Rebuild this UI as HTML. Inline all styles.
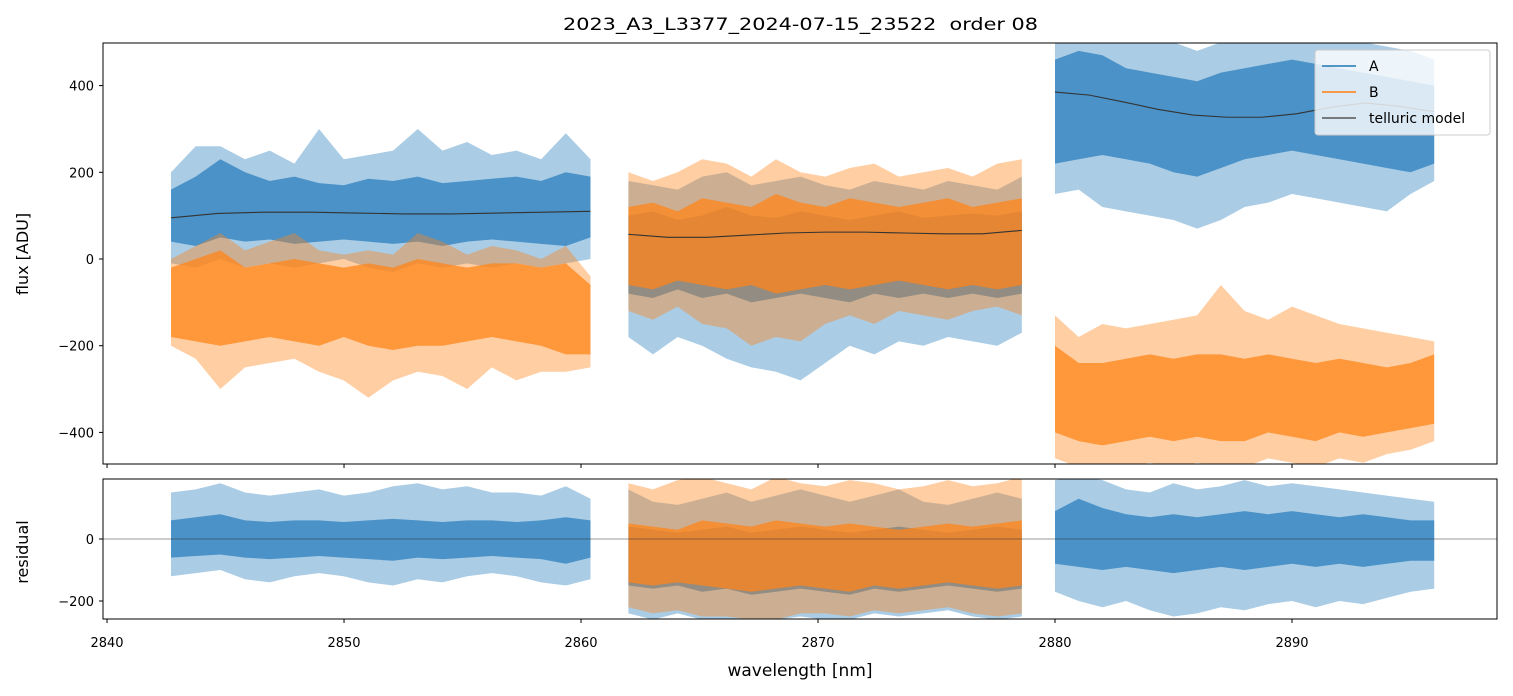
<!DOCTYPE html>
<html><head><meta charset="utf-8">
<style>
html,body{margin:0;padding:0;background:#fff;}
svg{display:block;font-family:"DejaVu Sans","Liberation Sans",sans-serif;}
</style></head>
<body>
<svg id="chart" width="1513" height="696" viewBox="0 0 1513 696" xmlns="http://www.w3.org/2000/svg">
<defs>
<clipPath id="clipTop"><rect x="103" y="43" width="1394" height="421"/></clipPath>
<clipPath id="clipBot"><rect x="103" y="479" width="1394" height="140"/></clipPath>
</defs>
<text x="563" y="30" font-size="17" textLength="475" lengthAdjust="spacingAndGlyphs" style="white-space:pre">2023_A3_L3377_2024-07-15_23522  order 08</text>
<g id="topPanel" clip-path="url(#clipTop)"></g>
<g id="botPanel" clip-path="url(#clipBot)"></g>
<g id="axes"></g>
<text transform="translate(28,254) rotate(-90)" font-size="16" text-anchor="middle">flux [ADU]</text>
<text transform="translate(28,552) rotate(-90)" font-size="16" text-anchor="middle">residual</text>
<text x="800" y="676" font-size="17" text-anchor="middle">wavelength [nm]</text>
<g>
<rect x="1315" y="50" width="175" height="85" rx="3" fill="#fff" fill-opacity="0.8" stroke="#ccc"/>
<line x1="1322" y1="66" x2="1356" y2="66" stroke="#1f77b4" stroke-width="1.5"/>
<text x="1369" y="71" font-size="14">A</text>
<line x1="1322" y1="92" x2="1356" y2="92" stroke="#ff7f0e" stroke-width="1.5"/>
<text x="1369" y="97" font-size="14">B</text>
<line x1="1322" y1="118" x2="1356" y2="118" stroke="#555" stroke-width="1.5"/>
<text x="1369" y="123" font-size="14">telluric model</text>
</g>
</svg>
<script>
// ---- data ----
const xTicks=[2840,2850,2860,2870,2880,2890];
const yTicksTop=[-400,-200,0,200,400];
const yTicksBot=[-200,0];
const seg1=[2842.7,2860.4], seg2=[2862.0,2878.6], seg3=[2880.0,2896.0];
// flux A
const a1Hi=[160,190,230,200,180,190,175,170,185,180,190,175,180,185,190,180,200,190];
const a1Lo=[40,30,50,40,45,35,40,45,40,35,40,30,40,45,40,35,30,50];
const a1Max=[200,260,260,230,250,220,300,230,240,250,300,250,270,240,250,230,290,230];
const a1Min=[-10,-20,0,-20,-10,-20,-10,0,-20,-30,-10,-20,-10,-20,-10,-20,-10,0];
const a2Hi=[100,110,90,100,120,100,95,110,100,90,100,110,95,100,105,100,110];
const a2Lo=[-80,-90,-70,-90,-80,-100,-90,-80,-90,-100,-80,-90,-80,-90,-80,-90,-80];
const a2Max=[180,170,160,190,200,170,180,190,170,160,180,170,160,180,170,160,190];
const a2Min=[-180,-220,-180,-200,-230,-250,-260,-280,-240,-200,-220,-190,-200,-180,-190,-200,-170];
const a3Hi=[460,480,470,440,430,420,410,430,440,450,460,450,440,430,420,410,400];
const a3Lo=[220,230,240,230,220,200,190,210,230,240,250,240,230,220,210,200,220];
const a3Max=[520,520,520,520,500,500,480,500,520,520,520,520,510,500,490,480,460];
const a3Min=[150,160,120,110,100,90,70,90,120,130,150,140,130,120,110,150,180];
// flux B
const b1Hi=[-20,0,20,-20,-10,0,-10,-20,-10,-20,0,-10,-20,-10,-10,-20,-10,-60];
const b1Lo=[-180,-190,-200,-190,-180,-190,-200,-180,-200,-210,-200,-200,-190,-180,-190,-200,-220,-220];
const b1Max=[0,30,60,20,40,60,20,10,20,10,60,40,10,30,20,0,30,-40];
const b1Min=[-200,-230,-300,-250,-240,-230,-260,-280,-320,-280,-260,-270,-300,-250,-280,-260,-260,-250];
const b2Hi=[120,130,110,140,130,120,150,130,120,140,130,120,130,140,120,130,140];
const b2Lo=[-60,-70,-50,-60,-70,-60,-80,-70,-60,-70,-60,-50,-60,-70,-60,-70,-60];
const b2Max=[200,180,200,230,220,190,230,200,190,210,220,190,200,210,190,220,230];
const b2Min=[-120,-140,-110,-150,-160,-200,-180,-190,-150,-130,-150,-120,-130,-140,-120,-110,-130];
const b3Hi=[-200,-240,-240,-230,-220,-230,-220,-220,-230,-220,-230,-240,-230,-240,-250,-240,-220];
const b3Lo=[-400,-420,-430,-420,-410,-420,-410,-420,-420,-400,-410,-420,-400,-410,-400,-390,-380];
const b3Max=[-130,-180,-150,-160,-150,-140,-130,-60,-120,-140,-110,-130,-150,-160,-170,-180,-190];
const b3Min=[-460,-480,-480,-480,-470,-480,-470,-480,-480,-460,-470,-480,-460,-470,-450,-440,-420];
// telluric model
const m1=[95,105,108,108,106,104,104,106,108,110];
const m2=[57,50,50,55,60,62,62,60,58,58,66];
const m3=[385,378,362,345,332,327,327,335,350,360,352,340];
// residuals
const ra1Hi=[60,70,80,60,55,60,60,55,60,65,60,55,60,60,55,60,70,60];
const ra1Lo=[-60,-55,-50,-60,-65,-60,-55,-60,-65,-70,-60,-65,-60,-55,-60,-65,-80,-60];
const ra1Max=[150,160,180,150,140,150,160,140,150,170,180,160,170,150,150,140,170,130];
const ra1Min=[-120,-110,-100,-130,-140,-120,-110,-120,-140,-150,-130,-140,-120,-110,-120,-140,-150,-130];
const ra2Hi=[40,30,20,30,40,20,30,40,30,20,30,40,30,20,30,40,30];
const ra2Lo=[-150,-160,-150,-170,-160,-180,-170,-160,-170,-180,-160,-170,-160,-150,-160,-170,-160];
const ra2Max=[160,120,110,130,150,120,140,160,140,120,140,160,120,110,130,150,130];
const ra2Min=[-240,-260,-240,-260,-260,-260,-260,-250,-260,-260,-240,-250,-240,-230,-250,-260,-250];
const rb2Hi=[50,40,30,60,50,40,60,50,40,50,40,30,40,50,40,50,60];
const rb2Lo=[-140,-150,-140,-150,-160,-170,-160,-150,-160,-170,-150,-160,-150,-140,-150,-160,-150];
const rb2Max=[180,160,190,200,180,160,200,180,170,190,180,160,170,190,170,180,200];
const rb2Min=[-220,-240,-230,-250,-250,-260,-260,-240,-240,-250,-230,-240,-230,-220,-240,-250,-240];
const ra3Hi=[90,130,100,80,70,80,70,80,90,80,90,80,70,80,70,60,60];
const ra3Lo=[-80,-90,-100,-90,-100,-110,-100,-90,-100,-90,-80,-90,-80,-90,-80,-70,-70];
const ra3Max=[190,200,190,160,150,180,160,170,190,170,180,170,160,150,140,130,120];
const ra3Min=[-170,-200,-220,-200,-230,-250,-240,-220,-230,-210,-200,-220,-200,-210,-190,-170,-160];
// ---- scales ----
const X0=2839.83,X1=2898.65, PX0=103, PX1=1497;
const xS=v=>PX0+(v-X0)/(X1-X0)*(PX1-PX0);
const yT=v=>259-v*0.4335;
const yB=v=>539-v*0.31;
const NS="http://www.w3.org/2000/svg";
function mk(tag,attrs,parent){const e=document.createElementNS(NS,tag);for(const k in attrs)e.setAttribute(k,attrs[k]);parent.appendChild(e);return e;}
function xsFor(seg,n){const r=[];for(let i=0;i<n;i++)r.push(seg[0]+(seg[1]-seg[0])*i/(n-1));return r;}
function band(parent,seg,lo,hi,color,op,ys,name){
  const xs=xsFor(seg,hi.length);let pts=[];
  for(let i=0;i<hi.length;i++)pts.push(xS(xs[i])+","+ys(hi[i]));
  for(let i=lo.length-1;i>=0;i--)pts.push(xS(xs[i])+","+ys(lo[i]));
  const p=mk('polygon',{points:pts.join(' '),fill:color,'fill-opacity':op},parent);
  
  
}
function series(parent,seg,mn,lo,hi,mx,color,ys,name){
  band(parent,seg,mn,mx,color,0.4,ys,name+'-envelope');
  band(parent,seg,lo,hi,color,0.75,ys,name+'-core');
}
function line(parent,seg,vals,ys,name){
  const xs=xsFor(seg,vals.length);
  const p=mk('polyline',{points:vals.map((v,i)=>xS(xs[i])+","+ys(v)).join(' '),fill:'none',stroke:'#333','stroke-width':1.1},parent);
  
  
}
const gTop=document.getElementById('topPanel'), gBot=document.getElementById('botPanel'), gAx=document.getElementById('axes');
const CA='#2a7fbd', CB='#ff8418';
series(gTop,seg1,a1Min,a1Lo,a1Hi,a1Max,CA,yT,'flux-a-seg1');
series(gTop,seg1,b1Min,b1Lo,b1Hi,b1Max,CB,yT,'flux-b-seg1');
series(gTop,seg2,a2Min,a2Lo,a2Hi,a2Max,CA,yT,'flux-a-seg2');
series(gTop,seg2,b2Min,b2Lo,b2Hi,b2Max,CB,yT,'flux-b-seg2');
series(gTop,seg3,a3Min,a3Lo,a3Hi,a3Max,CA,yT,'flux-a-seg3');
series(gTop,seg3,b3Min,b3Lo,b3Hi,b3Max,CB,yT,'flux-b-seg3');
line(gTop,seg1,m1,yT,'telluric-model-seg1');
line(gTop,seg2,m2,yT,'telluric-model-seg2');
line(gTop,seg3,m3,yT,'telluric-model-seg3');
series(gBot,seg1,ra1Min,ra1Lo,ra1Hi,ra1Max,CA,yB,'residual-a-seg1');
series(gBot,seg2,ra2Min,ra2Lo,ra2Hi,ra2Max,CA,yB,'residual-a-seg2');
series(gBot,seg2,rb2Min,rb2Lo,rb2Hi,rb2Max,CB,yB,'residual-b-seg2');
series(gBot,seg3,ra3Min,ra3Lo,ra3Hi,ra3Max,CA,yB,'residual-a-seg3');
const zl=mk('line',{x1:PX0,x2:PX1,y1:yB(0),y2:yB(0),stroke:'#333','stroke-width':0.6},gBot);


const f1=mk('rect',{x:103,y:43,width:1394,height:421,fill:'none',stroke:'#000','stroke-width':1},gAx);


const f2=mk('rect',{x:103,y:479,width:1394,height:140,fill:'none',stroke:'#000','stroke-width':1},gAx);


xTicks.forEach(t=>{
  const x=xS(t);
  mk('line',{x1:x,x2:x,y1:464,y2:468,stroke:'#000'},gAx);
  mk('line',{x1:x,x2:x,y1:619,y2:623,stroke:'#000'},gAx);
  const tx=mk('text',{x:x,y:647,'font-size':13,'text-anchor':'middle'},gAx);
  tx.textContent=t;
  
  
});
yTicksTop.forEach(t=>{
  const y=yT(t);
  mk('line',{x1:99,x2:103,y1:y,y2:y,stroke:'#000'},gAx);
  const tx=mk('text',{x:94,y:y+5,'font-size':13,'text-anchor':'end'},gAx);
  tx.textContent=t<0?'\u2212'+(-t):t;
  
  
});
yTicksBot.forEach(t=>{
  const y=yB(t);
  mk('line',{x1:99,x2:103,y1:y,y2:y,stroke:'#000'},gAx);
  const tx=mk('text',{x:94,y:y+5,'font-size':13,'text-anchor':'end'},gAx);
  tx.textContent=t<0?'\u2212'+(-t):t;
  
  
});
</script>
</body></html>
